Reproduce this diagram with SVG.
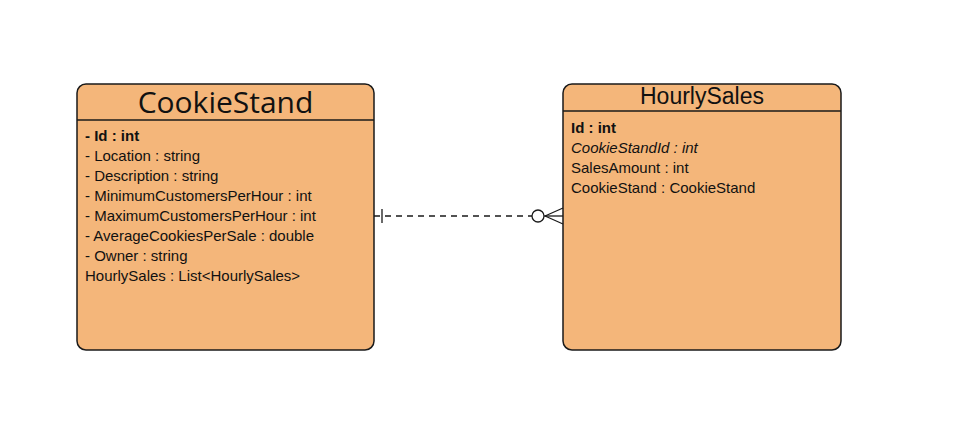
<svg xmlns="http://www.w3.org/2000/svg" width="956" height="447" viewBox="0 0 956 447">
<style>
.box{fill:#F4B67A;stroke:#1a1a1a;stroke-width:1.5}
.sep{stroke:#1a1a1a;stroke-width:1.3}
.t{font-family:"Liberation Sans",Arial,sans-serif;font-size:15px;fill:#111}
.b{font-weight:bold}
.i{font-style:italic}
.conn{stroke:#1a1a1a;stroke-width:1.3;fill:none}
</style>
<rect width="956" height="447" fill="#fff"/>
<g id="CookieStand">
<rect class="box" x="77" y="84" width="297" height="266" rx="9"/>
<line class="sep" x1="77" y1="120" x2="374" y2="120"/>
<text x="225.500" y="113" text-anchor="middle" style="font-family:'Open Sans','Noto Sans',sans-serif;font-size:30px;fill:#111">CookieStand</text>
<text class="t b" x="85" y="141">- Id : int</text>
<text class="t" x="85" y="161">- Location : string</text>
<text class="t" x="85" y="181">- Description : string</text>
<text class="t" x="85" y="201">- MinimumCustomersPerHour : int</text>
<text class="t" x="85" y="221">- MaximumCustomersPerHour : int</text>
<text class="t" x="85" y="241">- AverageCookiesPerSale : double</text>
<text class="t" x="85" y="261">- Owner : string</text>
<text class="t" x="85" y="281">HourlySales : List&lt;HourlySales&gt;</text>
</g>
<g id="HourlySales">
<rect class="box" x="563" y="84" width="278" height="266" rx="9"/>
<line class="sep" x1="563" y1="111" x2="841" y2="111"/>
<text x="702" y="104" text-anchor="middle" style="font-family:'Liberation Sans',Arial,sans-serif;font-size:23px;fill:#111">HourlySales</text>
<text class="t b" x="571" y="133">Id : int</text>
<text class="t i" x="571" y="153">CookieStandId : int</text>
<text class="t" x="571" y="173">SalesAmount : int</text>
<text class="t" x="571" y="193">CookieStand : CookieStand</text>
</g>
<g id="connectors">
<line class="conn" x1="374" y1="216" x2="532" y2="216" stroke-dasharray="6,5"/>
<line class="conn" x1="382" y1="209" x2="382" y2="223"/>
<circle class="conn" cx="538" cy="216" r="6" fill="#fff"/>
<line class="conn" x1="544" y1="216" x2="563" y2="216"/>
<line class="conn" x1="545" y1="216" x2="563" y2="208"/>
<line class="conn" x1="545" y1="216" x2="563" y2="224"/>
</g>
</svg>
